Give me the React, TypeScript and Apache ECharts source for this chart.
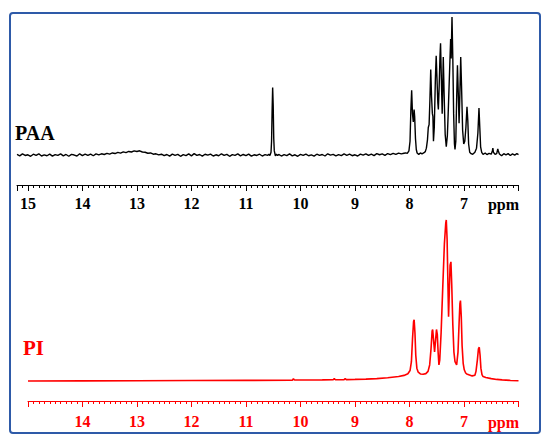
import React, { useEffect, useRef } from "react";
import * as echarts from "echarts";

// PAA spectrum (ppm, relative intensity)
const PAA_BASE_LEFT: [number, number][] = [
  [15.2, 0.4], [15.15, -0.6], [15.1, 0.8], [15.05, -0.3], [15.0, 0.2], [14.95, -0.9], [14.9, 0.6], [14.85, -0.2],
  [14.8, 0.9], [14.75, -0.7], [14.7, 0.1], [14.65, -0.5], [14.6, 0.7], [14.55, -0.8], [14.5, 0.3], [14.45, -0.2],
  [14.4, 0.8], [14.35, -0.6], [14.3, 0.4], [14.25, -0.9], [14.2, 0.5], [14.15, 0.0], [14.1, -0.7], [14.05, 0.9],
  [14.0, -0.4], [13.95, 0.6], [13.9, -0.3], [13.85, 0.7], [13.8, -0.5], [13.75, 0.8], [13.7, 0.1], [13.65, 0.9],
  [13.6, 0.4], [13.55, 1.2], [13.5, 0.7], [13.45, 1.5], [13.4, 1.1], [13.35, 1.9], [13.3, 1.4], [13.25, 2.3],
  [13.2, 1.8], [13.15, 2.6], [13.1, 2.2], [13.05, 3.0], [13.0, 2.6], [12.95, 3.1], [12.9, 2.2], [12.85, 2.0],
  [12.8, 1.3], [12.75, 1.5], [12.7, 0.6], [12.65, 0.9], [12.6, 0.1], [12.55, 0.6], [12.5, -0.5], [12.45, 0.4],
  [12.4, -0.8], [12.35, 0.7], [12.3, -0.2], [12.25, 0.5], [12.2, -0.9], [12.15, 0.3], [12.1, -0.4], [12.05, 0.8],
  [12.0, -0.6], [11.95, 1.0], [11.9, -0.3], [11.85, 0.4], [11.8, -0.8], [11.75, 0.6], [11.7, -0.1], [11.65, 0.7],
  [11.6, -0.7], [11.55, 0.2], [11.5, -0.5], [11.45, 0.9], [11.4, -0.3], [11.35, 0.5], [11.3, -0.9], [11.25, 0.3],
  [11.2, -0.2], [11.15, 0.8], [11.1, -0.6], [11.05, 0.4], [11.0, -0.4], [10.95, 0.7], [10.9, -0.8], [10.85, 0.2],
  [10.8, -0.3], [10.75, 0.6], [10.7, -0.7], [10.65, 0.3], [10.6, -0.2],
];

const PAA_PEAK_105: [number, number][] = [
  [10.58, 0.5], [10.56, -0.3], [10.54, 2], [10.53, 10], [10.52, 32], [10.51, 49], [10.5, 36], [10.49, 12],
  [10.48, 3], [10.46, -0.5], [10.44, 0.6], [10.42, -0.4],
];

const PAA_BASE_MID: [number, number][] = [
  [10.4, 0.5], [10.35, -0.7], [10.3, 0.3], [10.25, -0.4], [10.2, 0.8], [10.15, -0.6], [10.1, 0.2], [10.05, -0.9],
  [10.0, 0.5], [9.95, -0.2], [9.9, 0.7], [9.85, -0.5], [9.8, 0.1], [9.75, -0.8], [9.7, 0.6], [9.65, -0.3],
  [9.6, 0.4], [9.55, -0.7], [9.5, 0.9], [9.45, -0.1], [9.4, 0.5], [9.35, -0.6], [9.3, 0.3], [9.25, -0.4],
  [9.2, 0.8], [9.15, -0.2], [9.1, 0.6], [9.05, -0.5], [9.0, 0.2], [8.95, -0.7], [8.9, 0.7], [8.85, 0.0],
  [8.8, 0.9], [8.75, -0.3], [8.7, 0.6], [8.65, -0.4], [8.6, 1.0], [8.55, 0.2], [8.5, 0.8], [8.45, -0.2],
  [8.4, 1.1], [8.35, 0.3], [8.3, 1.2], [8.25, 0.5], [8.2, 1.4], [8.15, 0.8], [8.1, 1.3],
];

const PAA_AROMATIC: [number, number][] = [
  [8.07, 1.6], [8.04, 1.2], [8.01, 3], [7.99, 10], [7.975, 32], [7.96, 47], [7.945, 30], [7.93, 24],
  [7.915, 33], [7.905, 28], [7.89, 12], [7.875, 4], [7.86, 1.5], [7.83, 0.5], [7.8, 1.5], [7.77, 0.8],
  [7.74, 1.5], [7.71, 2.5], [7.69, 5], [7.67, 11], [7.655, 20], [7.64, 22], [7.625, 40], [7.61, 62],
  [7.595, 42], [7.58, 30], [7.57, 28], [7.56, 10], [7.545, 20], [7.525, 55], [7.51, 72], [7.495, 55],
  [7.48, 38], [7.47, 33], [7.455, 50], [7.44, 72], [7.43, 81], [7.415, 55], [7.4, 30], [7.39, 50],
  [7.38, 71], [7.365, 45], [7.345, 15], [7.325, 6], [7.305, 14], [7.29, 30], [7.265, 60], [7.245, 84],
  [7.235, 70], [7.22, 100], [7.205, 70], [7.19, 30], [7.175, 8], [7.165, 4], [7.15, 10], [7.135, 40],
  [7.12, 65], [7.105, 45], [7.09, 23], [7.075, 45], [7.06, 71], [7.045, 50], [7.025, 18], [7.005, 8],
  [6.985, 10], [6.965, 20], [6.945, 35], [6.93, 25], [6.915, 8], [6.895, 2], [6.87, 1], [6.84, 0.5],
  [6.8, 2], [6.77, 5], [6.745, 16], [6.725, 34], [6.71, 20], [6.695, 6], [6.675, 2], [6.65, 0.5],
  [6.61, 1.5], [6.58, 0.3], [6.54, 1.2], [6.5, 0.6], [6.48, 3], [6.47, 5], [6.46, 2], [6.43, 0.5],
  [6.4, 1], [6.38, 4.5], [6.37, 3], [6.35, 0.8], [6.31, -0.5], [6.27, 1], [6.23, 0.2], [6.19, 1],
  [6.15, -0.3], [6.11, 0.8], [6.07, 0], [6.03, 1], [6.0, 0.3],
];

// PI spectrum
const PI_SPECTRUM: [number, number][] = [
  [15.0, 0], [14.0, 0.1], [13.0, 0.2], [12.0, 0.3], [11.0, 0.4], [10.2, 0.5], [10.15, 0.5], [10.13, 1.4],
  [10.11, 0.6], [10.0, 0.6], [9.6, 0.7], [9.4, 0.8], [9.38, 1.5], [9.36, 0.8], [9.2, 0.9], [9.18, 1.5],
  [9.16, 0.9], [9.0, 1.0], [8.8, 1.2], [8.6, 1.5], [8.4, 2.0], [8.2, 2.8], [8.1, 3.5], [8.03, 4.5],
  [7.99, 6.5], [7.965, 12], [7.945, 26], [7.925, 37], [7.915, 38], [7.9, 30], [7.885, 16], [7.865, 8],
  [7.84, 5.5], [7.8, 4.4], [7.75, 4.2], [7.7, 4.6], [7.66, 6], [7.63, 10], [7.605, 20], [7.585, 31],
  [7.575, 32], [7.56, 26], [7.54, 18], [7.52, 26], [7.505, 32], [7.49, 29], [7.475, 18], [7.46, 10],
  [7.445, 13], [7.42, 30], [7.39, 58], [7.36, 85], [7.335, 98], [7.325, 100], [7.31, 88], [7.295, 60],
  [7.283, 40], [7.27, 55], [7.255, 72], [7.24, 74], [7.225, 60], [7.205, 35], [7.185, 18], [7.165, 12],
  [7.135, 10], [7.11, 18], [7.09, 36], [7.075, 48], [7.065, 50], [7.05, 40], [7.035, 22], [7.015, 11],
  [6.995, 7], [6.97, 5], [6.95, 4.4], [6.9, 3.8], [6.85, 3.2], [6.8, 3.6], [6.78, 6], [6.755, 13],
  [6.735, 20], [6.72, 21], [6.705, 16], [6.69, 8], [6.67, 4], [6.65, 2.8], [6.6, 2.2], [6.5, 1.5],
  [6.4, 1.0], [6.3, 0.7], [6.15, 0.4], [6.0, 0.2],
];

const TOP_TICK_LABELS = [15, 14, 13, 12, 11, 10, 9, 8, 7];
const BOTTOM_TICK_LABELS = [14, 13, 12, 11, 10, 9, 8, 7];
const TOP_RANGE = [6, 15.2];
const BOTTOM_RANGE = [6, 15];

const SERIF = "Liberation Serif";
const RED = "#ff0000";
const BLUE = "#2e5aa8";

function makeAxes(grid: number, range: number[], color: string, labels: number[]) {
  const minorAxis = {
    gridIndex: grid,
    type: "value",
    position: "bottom",
    inverse: true,
    min: range[0],
    max: range[1],
    interval: 0.1,
    axisLine: { show: true, onZero: false, lineStyle: { color, width: 1 } },
    axisTick: { show: true, length: 3, lineStyle: { color, width: 1 } },
    axisLabel: { show: false },
    splitLine: { show: false },
  };
  const majorAxis = {
    gridIndex: grid,
    type: "value",
    position: "bottom",
    inverse: true,
    min: range[0],
    max: range[1],
    interval: 1,
    axisLine: { show: false, onZero: false },
    axisTick: { show: true, length: 6, lineStyle: { color, width: 1 } },
    axisLabel: {
      show: true,
      margin: grid === 0 ? 10 : 12,
      color,
      fontFamily: SERIF,
      fontWeight: "bold",
      fontSize: 16,
      showMinLabel: true,
      showMaxLabel: true,
      formatter: (v: number) => (labels.includes(Math.round(v * 1000) / 1000) ? String(Math.round(v)) : ""),
    },
    splitLine: { show: false },
  };
  return [minorAxis, majorAxis];
}

function textStyle(text: string, fill: string, size: number, align: string) {
  return {
    text,
    fill,
    fontFamily: SERIF,
    fontWeight: "bold",
    fontSize: size,
    verticalAlign: "middle",
    align,
  };
}

export default function App() {
  const ref = useRef<HTMLDivElement>(null);
  useEffect(() => {
    if (!ref.current) return;
    const chart = echarts.init(ref.current, null, { renderer: "svg" });
    const paaData = [...PAA_BASE_LEFT, ...PAA_PEAK_105, ...PAA_BASE_MID, ...PAA_AROMATIC];
    chart.setOption({
      animation: false,
      backgroundColor: "#ffffff",
      grid: [
        { left: 17, right: 31.5, top: 17, height: 168 },
        { left: 28, right: 31.5, top: 220, height: 181 },
      ],
      xAxis: [
        ...makeAxes(0, TOP_RANGE, "#000000", TOP_TICK_LABELS),
        ...makeAxes(1, BOTTOM_RANGE, RED, BOTTOM_TICK_LABELS),
      ],
      yAxis: [
        { gridIndex: 0, type: "value", min: -21.7, max: 100, show: false, splitLine: { show: false } },
        { gridIndex: 1, type: "value", min: -12.4, max: 100, show: false, splitLine: { show: false } },
      ],
      series: [
        {
          type: "line",
          xAxisIndex: 0,
          yAxisIndex: 0,
          data: paaData,
          showSymbol: false,
          symbol: "none",
          clip: false,
          lineStyle: { color: "#000000", width: 1.4 },
        },
        {
          type: "line",
          xAxisIndex: 2,
          yAxisIndex: 1,
          data: PI_SPECTRUM,
          showSymbol: false,
          symbol: "none",
          clip: false,
          lineStyle: { color: RED, width: 1.6 },
        },
      ],
      graphic: [
        {
          type: "rect",
          shape: { x: 10, y: 13, width: 530, height: 420, r: 3 },
          style: { fill: "none", stroke: BLUE, lineWidth: 2 },
          silent: true,
        },
        { type: "text", x: 15, y: 133, style: textStyle("PAA", "#000000", 20, "left") },
        { type: "text", x: 23, y: 348, style: textStyle("PI", RED, 21, "left") },
        { type: "text", x: 519, y: 204, style: textStyle("ppm", "#000000", 16, "right") },
        { type: "text", x: 519, y: 422, style: textStyle("ppm", RED, 16, "right") },
      ],
    });
    return () => chart.dispose();
  }, []);
  return <div ref={ref} style={{ position: "absolute", left: 0, top: 0, width: 550, height: 448 }} />;
}
